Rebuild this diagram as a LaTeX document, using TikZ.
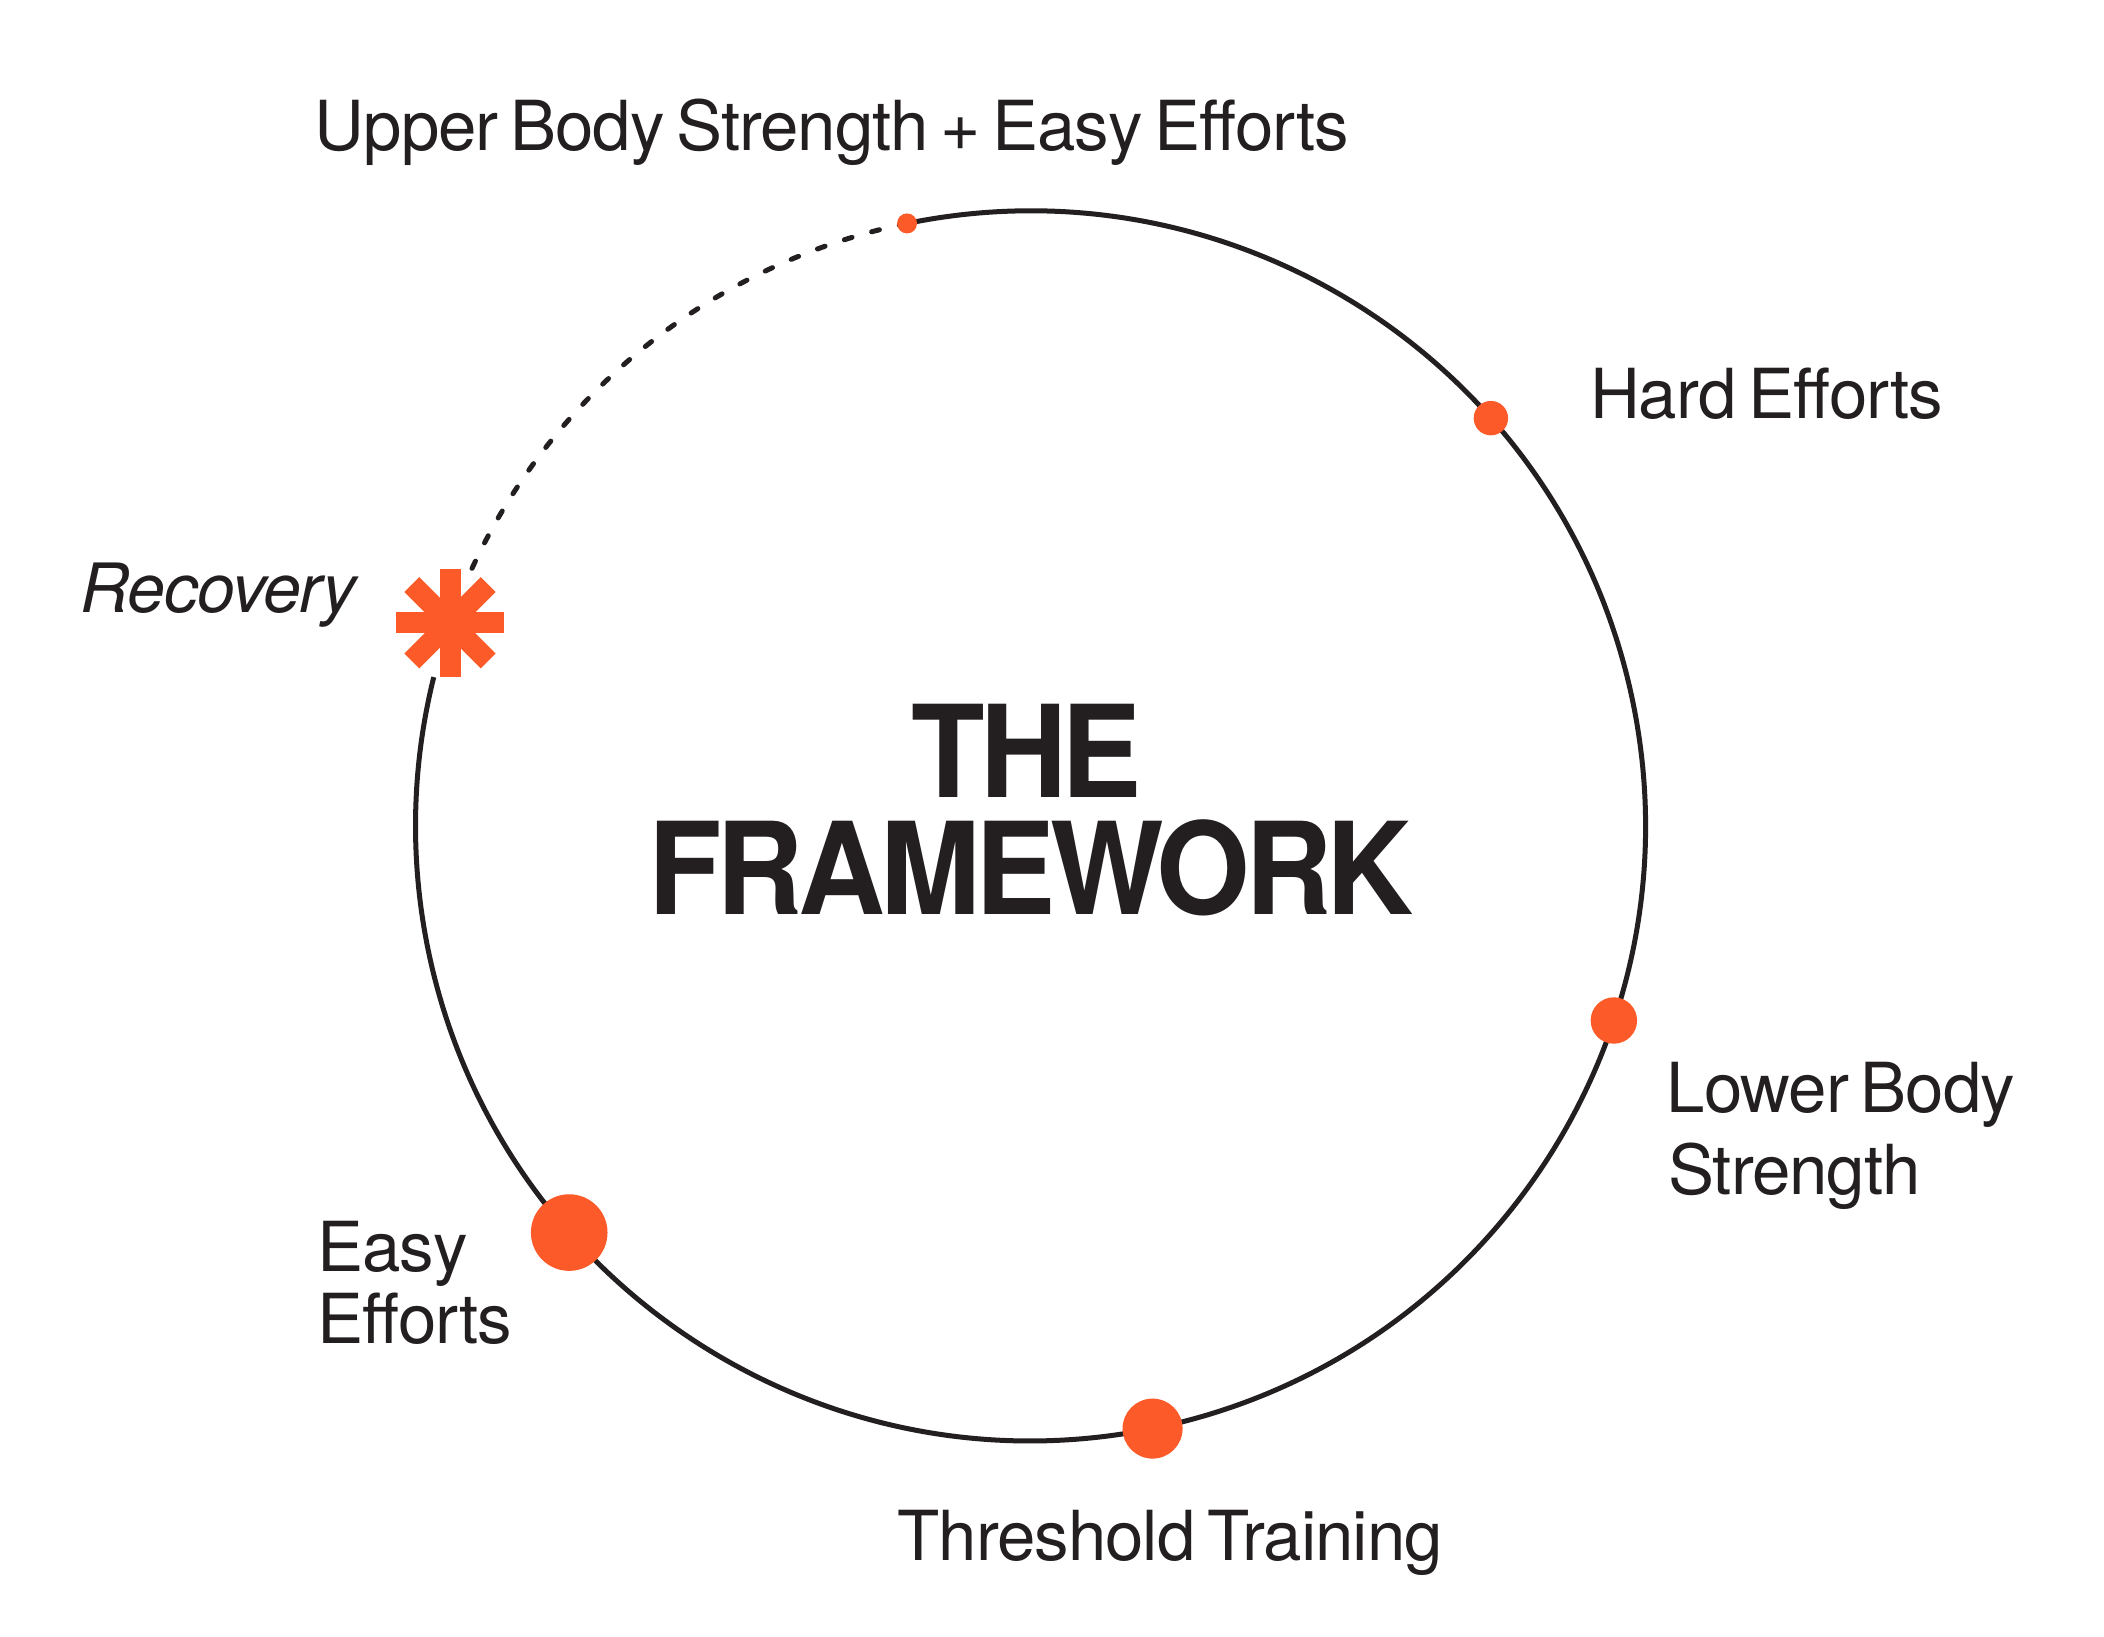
\documentclass[tikz,border=0pt]{standalone}
\usepackage{fontspec}
\setmainfont{TeX Gyre Heros}[LetterSpace=-1.5, WordSpace=0.65]
\newfontfamily\titlefont{TeX Gyre Heros}[LetterSpace=-4, FakeStretch=0.94]
\definecolor{accent}{HTML}{FC5A28}
\definecolor{ink}{HTML}{231F20}
\begin{document}
\begin{tikzpicture}[x=1pt,y=1pt,
  ring/.style={draw=ink, line width=5pt},
  dashring/.style={draw=ink, line width=5pt, line cap=round, dash pattern=on 8pt off 20.4pt},
  dot/.style={circle, fill=accent, inner sep=0pt, minimum size=#1},
  lab/.style={text=ink, inner sep=0pt, anchor=base west, font=\fontsize{69}{80}\selectfont},
  ttl/.style={text=ink, inner sep=0pt, anchor=base, font=\titlefont\bfseries\fontsize{128}{128}\selectfont}]
\useasboundingbox[fill=white] (0,0) rectangle (2104,1637);
\coordinate (C) at (1030.5,811.1);
% positions on the ring
\coordinate (ptop) at ([shift={(101.58:615)}]C);
\coordinate (phard) at ([shift={(41.53:615)}]C);
\coordinate (plow) at ([shift={(-18.45:615)}]C);
\coordinate (pthr) at ([shift={(-78.55:615)}]C);
\coordinate (peasy) at ([shift={(-138.6:615)}]C);
\coordinate (ast) at ([shift={(160.72:615)}]C);
% ring
\draw[ring] (ptop) arc[start angle=101.58, end angle=-194, radius=615];
\draw[dashring] (ptop) arc[start angle=101.58, end angle=155.6, radius=615];
% asterisk
\begin{scope}[shift={(ast)}]
  \foreach \a in {0,45,90,135}
    \fill[accent, rotate=\a] (-54,-10.5) rectangle (54,10.5);
\end{scope}
% dots
\node[dot=20pt] (top) at (ptop) {};
\node[dot=34.4pt] (hard) at (phard) {};
\node[dot=46.4pt] (low) at (plow) {};
\node[dot=60pt] (thr) at (pthr) {};
\node[dot=76.6pt] (easy) at (peasy) {};
% labels
\node[lab] (ltop) at (314.5,1486) {Upper Body Strength + Easy Efforts};
\node[lab] (lhard) at (1589.8,1218.7) {Hard Efforts};
\node[lab] (llow1) at (1666.5,524.7) {Lower Body};
\node[lab] (llow2) at (1668,442) {Strength};
\node[lab] (lthr) at (897.5,76.5) {Threshold Training};
\node[lab] (leasy1) at (317.2,365.3) {Easy};
\node[lab] (leasy2) at (317.2,293.7) {Efforts};
\node[lab, font=\itshape\fontsize{68}{78}\selectfont] (lrec) at (80,1024.3) {Recovery};
% title
\node[ttl] (t1) at (1027,839.3) {THE};
\node[ttl] (t2) at (1031,722) {FRAMEWORK};
\end{tikzpicture}
\end{document}
